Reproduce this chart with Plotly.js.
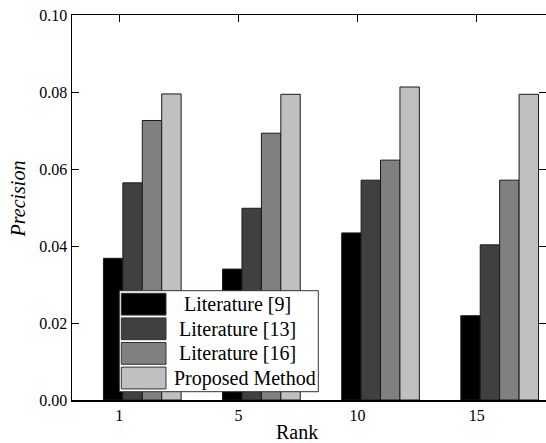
<!DOCTYPE html>
<html>
<head>
<meta charset="utf-8">
<script src="https://cdn.plot.ly/plotly-3.0.1.min.js"></script>
<style>
html,body{margin:0;padding:0;background:#fff;overflow:hidden;}
#chart text{font-family:'Liberation Serif',serif !important;}
</style>
</head>
<body>
<div id="chart" style="width:546px;height:443px;"></div>
<script>
// ---- data ----
const ranks = ['1', '5', '10', '15'];
const lit9 = [0.0368, 0.0340, 0.0434, 0.0219];
const lit13 = [0.0564, 0.0498, 0.0571, 0.0403];
const lit16 = [0.0726, 0.0693, 0.0623, 0.0571];
const proposed = [0.0795, 0.0794, 0.0813, 0.0794];
const seriesNames = ['Literature [9]', 'Literature [13]', 'Literature [16]', 'Proposed Method'];
const yTicks = [0, 0.02, 0.04, 0.06, 0.08, 0.10];

// ---- style ----
const colors = ['#000000', '#404040', '#808080', '#c0c0c0'];
const series = [lit9, lit13, lit16, proposed];
const FONT = 'Liberation Serif';
const W = 546, H = 443;
const M = {l: 72, r: 0, t: 15, b: 43};
const barW = 0.163, start = -0.133;
const xIdx = ranks.map((_, i) => i);

const traces = series.map((vals, k) => ({
  type: 'bar', x: xIdx, y: vals, name: seriesNames[k],
  width: barW, offset: start + k * barW,
  marker: {color: colors[k], line: {color: '#1a1a1a', width: 1}},
  showlegend: false, hoverinfo: 'skip'
}));

const pw = W - M.l - M.r, ph = H - M.t - M.b;
const px = v => (v - M.l) / pw;
const py = v => (H - M.b - v) / ph;

const shapes = [];
const annotations = [];
shapes.push({type: 'rect', xref: 'paper', yref: 'paper', layer: 'above',
  x0: px(119.3), x1: px(318.3), y0: py(391.7), y1: py(290.7),
  fillcolor: '#ffffff', line: {color: '#333333', width: 1}});
seriesNames.forEach((name, k) => {
  const top = 293.3 + k * 24.6;
  const bot = top + 21.8;
  shapes.push({type: 'rect', xref: 'paper', yref: 'paper', layer: 'above',
    x0: px(121.3), x1: px(166), y0: py(bot), y1: py(top),
    fillcolor: colors[k], line: {color: '#333333', width: 1}});
  annotations.push({xref: 'paper', yref: 'paper', x: px(k === 3 ? 245 : 237), y: py((top + bot) / 2),
    xanchor: 'center', yanchor: 'middle', showarrow: false, text: name,
    font: {family: FONT, size: 20, color: '#000'}});
});
annotations.push({xref: 'paper', yref: 'paper', x: px(297), y: py(432), xanchor: 'center', yanchor: 'middle',
  showarrow: false, text: 'Rank', font: {family: FONT, size: 20, color: '#000'}});
annotations.push({xref: 'paper', yref: 'paper', x: px(17.5), y: py(199), xanchor: 'center', yanchor: 'middle',
  showarrow: false, textangle: -90, text: 'Precision',
  font: {family: FONT, size: 20, color: '#000', style: 'italic'}});

const layout = {
  width: W, height: H,
  margin: M,
  barmode: 'overlay',
  font: {family: FONT, size: 16, color: '#000'},
  xaxis: {
    range: [-0.397, 3.582],
    tickmode: 'array', tickvals: xIdx, ticktext: ranks,
    ticks: 'inside', ticklen: 7, tickwidth: 1, tickcolor: '#000',
    showline: true, linecolor: '#000', linewidth: 1.5, mirror: 'ticks',
    showgrid: false, zeroline: false
  },
  yaxis: {
    range: [0, 0.10],
    tickmode: 'array', tickvals: yTicks, ticktext: yTicks.map(v => v.toFixed(2)),
    ticks: 'inside', ticklen: 7, tickwidth: 1, tickcolor: '#000',
    showline: true, linecolor: '#000', linewidth: 1.5, mirror: 'ticks',
    showgrid: false, zeroline: false
  },
  shapes: shapes,
  annotations: annotations
};

Plotly.newPlot('chart', traces, layout, {displayModeBar: false, staticPlot: true});
</script>
</body>
</html>
